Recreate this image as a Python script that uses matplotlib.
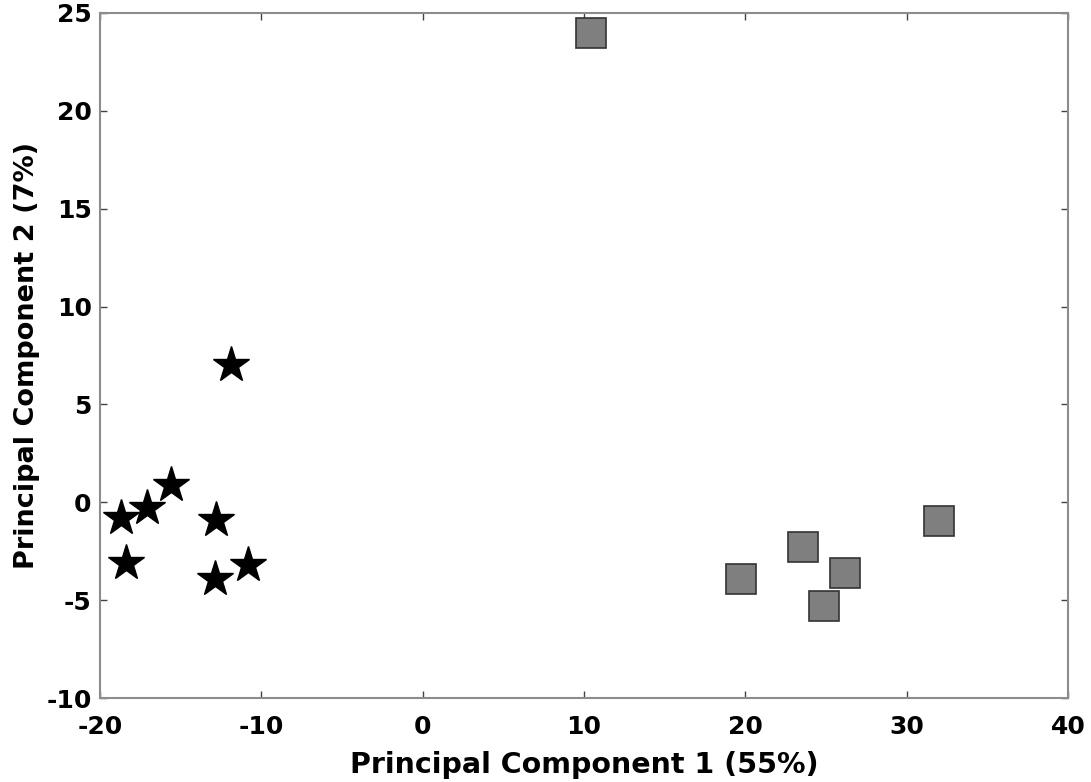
import numpy as np
import matplotlib.pyplot as plt

# PCA scores
star_x = [-11.9, -15.6, -17.1, -18.7, -12.8, -18.4, -10.8, -12.9]
star_y = [7.0, 0.9, -0.3, -0.8, -0.9, -3.1, -3.2, -3.9]
square_x = [10.4, 19.7, 23.6, 26.2, 24.9, 32.0]
square_y = [24.0, -3.9, -2.3, -3.6, -5.3, -0.95]

xticks = [-20, -10, 0, 10, 20, 30, 40]
yticks = [-10, -5, 0, 5, 10, 15, 20, 25]

plt.rcParams['axes.unicode_minus'] = False

fig = plt.figure(figsize=(10.91, 7.82), dpi=100)
ax = fig.add_axes([0.0917, 0.1074, 0.8873, 0.876])

ax.plot(star_x, star_y, linestyle='none', marker='*', markersize=27,
        color='black', markeredgecolor='black')
ax.plot(square_x, square_y, linestyle='none', marker='s', markersize=21,
        markerfacecolor='#7f7f7f', markeredgecolor='#333333', markeredgewidth=1.2)

ax.set_xlim(-20, 40)
ax.set_ylim(-10, 25)
ax.set_xticks(xticks)
ax.set_yticks(yticks)
ax.set_xticklabels([str(v) for v in xticks])
ax.set_yticklabels([str(v) for v in yticks])
ax.tick_params(direction='in', top=True, right=True, length=5, width=1,
               color='#444444', labelsize=18)
ax.tick_params(axis='x', pad=12)
ax.tick_params(axis='y', pad=6)
for lab in ax.get_xticklabels() + ax.get_yticklabels():
    lab.set_fontweight('bold')
for s in ax.spines.values():
    s.set_color('#8c8c8c')
    s.set_linewidth(1.5)

ax.set_xlabel('Principal Component 1 (55%)', fontsize=20.5, fontweight='bold')
ax.set_ylabel('Principal Component 2 (7%)', fontsize=19.5, fontweight='bold')
ax.xaxis.set_label_coords(0.5, -0.077)
ax.yaxis.set_label_coords(-0.062, 0.5)

fig.savefig('out.png', dpi=100)
